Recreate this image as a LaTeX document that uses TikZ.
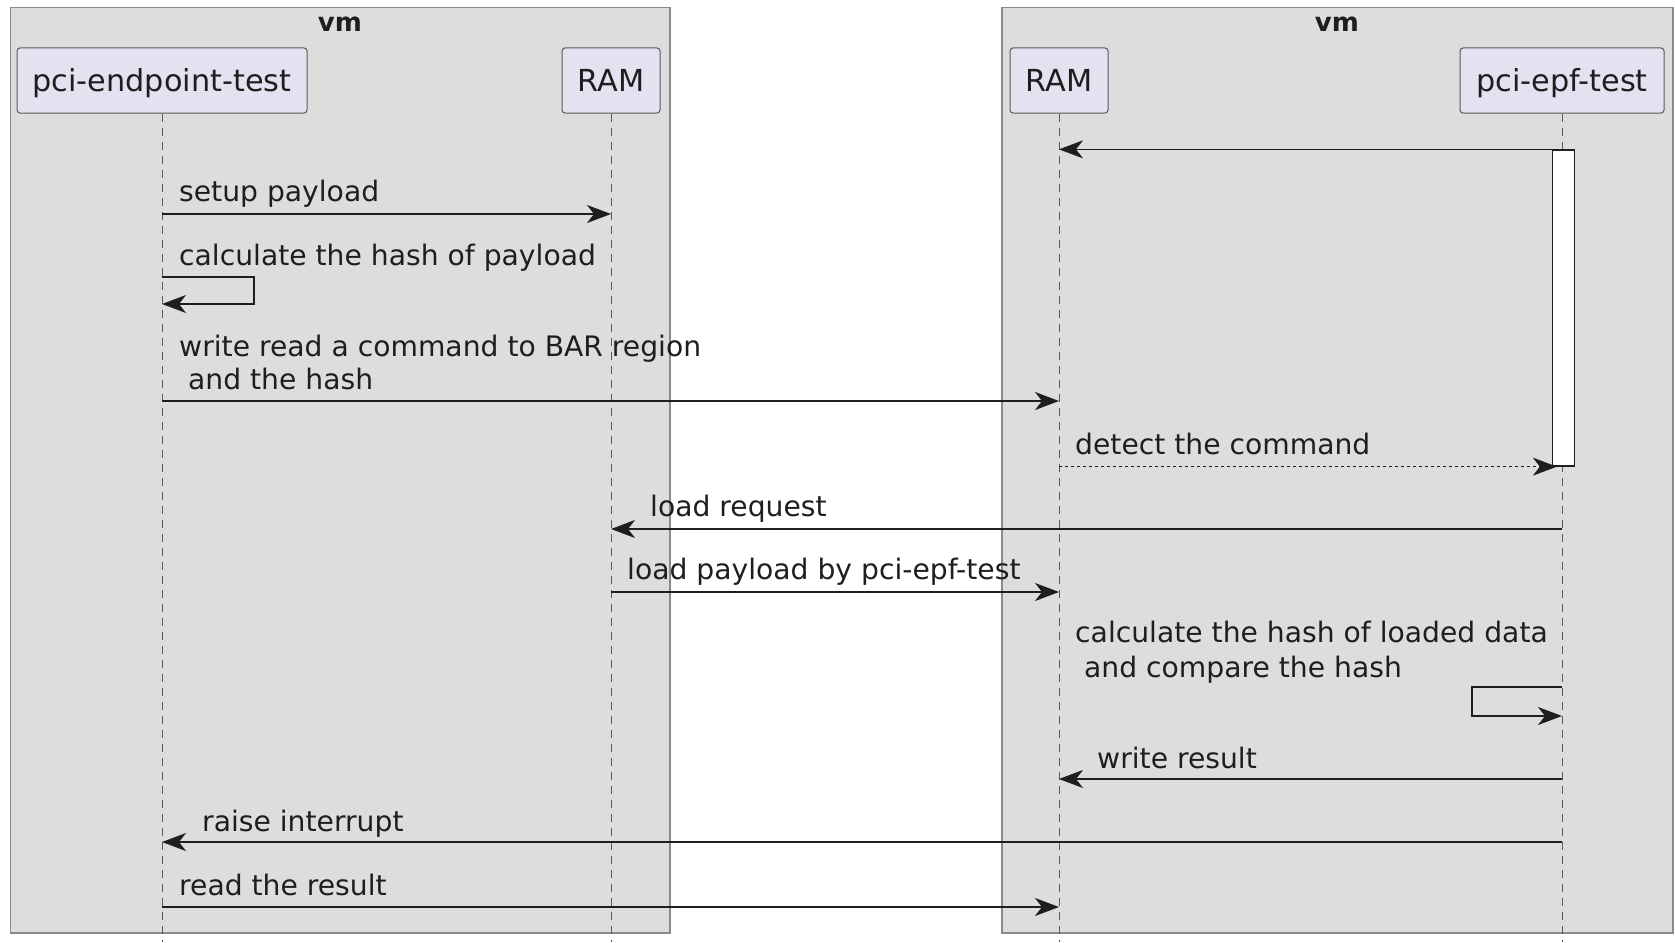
\documentclass[tikz,border=0pt]{standalone}
\usepackage{fontspec}
\setmainfont{DejaVu Sans}
\usetikzlibrary{arrows.meta}
\definecolor{groupfill}{HTML}{DDDDDD}
\definecolor{groupline}{HTML}{8A8A8A}
\definecolor{partfill}{HTML}{E2E2F0}
\definecolor{partline}{HTML}{5A5A5A}
\definecolor{ink}{HTML}{1E1E1E}
\begin{document}
\begin{tikzpicture}[x=1pt,y=-1pt,
  groupbox/.style={draw=groupline,fill=groupfill,line width=1.2pt},
  grouptitle/.style={font=\fontsize{26}{30}\selectfont\bfseries,text=ink,inner sep=0pt},
  participant/.style={draw=partline,fill=partfill,rounded corners=3pt,line width=1pt,
    minimum height=65pt,inner sep=0pt,text height=22.1pt,text depth=0pt,
    font=\fontsize{30.3}{34}\selectfont,text=ink},
  lifeline/.style={draw=partline,dash pattern=on 8pt off 6pt,line width=1pt},
  msg/.style={draw=ink,line width=1.6pt,-{Stealth[length=24pt,width=18pt,inset=7pt]}},
  reply/.style={msg,dash pattern=on 3pt off 3pt},
  lbl/.style={font=\fontsize{28.2}{35}\selectfont,text=ink,inner sep=0pt,align=left},
  activation/.style={draw=ink,fill=white,line width=1.3pt,minimum width=22pt,inner sep=0pt}]

\fill[white] (0,0) rectangle (1675,942);
\useasboundingbox (0,0) rectangle (1675,942);

% the two vm boxes
\draw[groupbox] (10.7,7.5) rectangle (670,933);
\draw[groupbox] (1002,7.5) rectangle (1673,933);
\node[grouptitle] (vmLt) at (340,24) {vm};
\node[grouptitle] (vmRt) at (1337,24) {vm};

% participants
\node[participant,minimum width=290pt] (pet) at (162,80.5) {pci-endpoint-test};
\node[participant,minimum width=98pt] (ramL) at (611,80.5) {RAM};
\node[participant,minimum width=98pt] (ramR) at (1059,80.5) {RAM};
\node[participant,minimum width=204pt] (epf) at (1562,80.5) {pci-epf-test};

% lifelines
\foreach \p in {pet,ramL,ramR,epf}
  \draw[lifeline] (\p.south) -- (\p.south |- 0,942);

% activation of pci-epf-test
\node[activation,minimum height=316pt] (act) at (1563.5,308) {};

\draw[msg] (act.north west) -- (ramR |- act.north west);

\draw[msg] (pet |- 0,214) -- (ramL |- 0,214);
\node[lbl,anchor=base west] (l1) at (179,201.5) {setup payload};

\draw[msg] (pet |- 0,277) -- (254,277) -- (254,304) -- (pet |- 0,304);
\node[lbl,anchor=base west] (l2) at (179,265.5) {calculate the hash of payload};

\draw[msg] (pet |- 0,401) -- (ramR |- 0,401);
\node[lbl,anchor=base west] (l3) at (179,356.5) {write read a command to BAR region};
\node[lbl,anchor=base west] (l3b) at (179,389.5) {\ and the hash};

\draw[reply] (ramR |- act.south west) -- ([xshift=5pt]act.south west);
\node[lbl,anchor=base west] (l4) at (1075,454.5) {detect the command};

\draw[msg] (epf |- 0,529) -- (ramL |- 0,529);
\node[lbl,anchor=base west] (l5) at (650,516.5) {load request};

\draw[msg] (ramL |- 0,592) -- (ramR |- 0,592);
\node[lbl,anchor=base west] (l6) at (627,579.5) {load payload by pci-epf-test};

\draw[msg] (epf |- 0,687) -- (1472,687) -- (1472,716) -- (epf |- 0,716);
\node[lbl,anchor=base west] (l7) at (1075,642.5) {calculate the hash of loaded data};
\node[lbl,anchor=base west] (l7b) at (1075,677.5) {\ and compare the hash};

\draw[msg] (epf |- 0,779) -- (ramR |- 0,779);
\node[lbl,anchor=base west] (l8) at (1097,768.5) {write result};

\draw[msg] (epf |- 0,842) -- (pet |- 0,842);
\node[lbl,anchor=base west] (l9) at (202,831.5) {raise interrupt};

\draw[msg] (pet |- 0,907) -- (ramR |- 0,907);
\node[lbl,anchor=base west] (l10) at (179,895.5) {read the result};
\end{tikzpicture}
\end{document}
